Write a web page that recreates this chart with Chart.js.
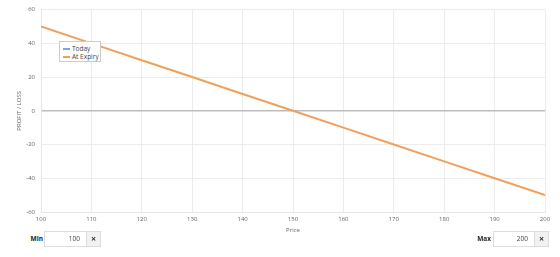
<!DOCTYPE html>
<html>
<head>
<meta charset="utf-8">
<script src="https://cdn.jsdelivr.net/npm/chart.js@4/dist/chart.umd.min.js"></script>
<style>
  body { margin: 0; background: #fff; font-family: "Open Sans", sans-serif; }
  #wrap { position: relative; width: 560px; height: 257px; }
  #box { position: absolute; left: 0; top: 0; width: 560px; height: 234px; }
  #legend { position: absolute; left: 59px; top: 41px; width: 42px; height: 21px;
    border: 1px solid #ccc; background: #fff; font-size: 6.5px; color: #444; padding: 3px 0 0 3px; box-sizing: border-box; }
  #legend div { height: 8px; line-height: 8px; white-space: nowrap; }
  #legend span { display: inline-block; width: 7px; height: 2px; vertical-align: middle; margin-right: 2px; }
  .ctl { position: absolute; top: 231px; height: 16px; }
  .ctl b { position: absolute; top: 3px; width: 20px; text-align: right; font-size: 6.5px; color: #222; }
  .ctl .inp { position: absolute; top: 0; height: 16px; border: 1px solid #ddd; box-sizing: border-box;
    text-align: right; padding-right: 6px; line-height: 14px; color: #444; font-size: 6.5px; }
  .ctl .btn { position: absolute; top: 0; height: 16px; border: 1px solid #ddd; background: #f2f2f2;
    box-sizing: border-box; text-align: center; line-height: 14px; font-size: 9px; font-weight: bold; color: #333; }
</style>
</head>
<body>
<div id="wrap">
  <div id="box"><canvas id="myChart"></canvas></div>
  <div id="legend">
    <div><span style="background:#7aa6e0"></span>Today</div>
    <div><span style="background:#f0a05a"></span>At Expiry</div>
  </div>
  <div class="ctl" style="left:0">
    <b style="left:23px">Min</b>
    <div class="inp" style="left:44px;width:43px">100</div>
    <div class="btn" style="left:86px;width:15px">×</div>
  </div>
  <div class="ctl" style="left:0">
    <b style="left:471px">Max</b>
    <div class="inp" style="left:493px;width:42px">200</div>
    <div class="btn" style="left:534px;width:15px">×</div>
  </div>
</div>
<script>
const prices = [100, 110, 120, 130, 140, 150, 160, 170, 180, 190, 200];
const todayValues = [];
const expiryValues = [50, 40, 30, 20, 10, 0, -10, -20, -30, -40, -50];
const yMin = -60;
const yMax = 60;

const ctx = document.getElementById('myChart').getContext('2d');

const chart = new Chart(ctx, {
    type: 'line',
    data: {
        datasets: [
            {
                label: 'Today',
                data: todayValues.map((v, i) => ({ x: prices[i], y: v })),
                borderColor: '#7aa6e0',
                borderWidth: 2,
                pointRadius: 0
            },
            {
                label: 'At Expiry',
                data: expiryValues.map((v, i) => ({ x: prices[i], y: v })),
                borderColor: '#f0a05a',
                borderWidth: 2,
                pointRadius: 0
            }
        ]
    },
    options: {
        responsive: true,
        maintainAspectRatio: false,
        animation: false,
        layout: { padding: { top: 8, right: 15, left: 16, bottom: 0 } },
        plugins: { legend: { display: false }, tooltip: { enabled: false } },
        scales: {
            x: {
                type: 'linear',
                min: prices[0],
                max: prices[prices.length - 1],
                ticks: { stepSize: 10, color: '#666', font: { family: 'Open Sans', size: 6 }, padding: 4 },
                grid: { color: '#ececec', drawTicks: false },
                border: { color: '#e6e6e6' },
                title: { display: true, text: 'Price', color: '#666', font: { family: 'Open Sans', size: 6 }, padding: { top: 2, bottom: 0 } },
                afterFit: (s) => { s.height = 22; }
            },
            y: {
                min: yMin,
                max: yMax,
                ticks: { stepSize: 20, color: '#666', font: { family: 'Open Sans', size: 6 }, padding: 6 },
                grid: {
                    drawTicks: false,
                    color: (c) => c.tick && c.tick.value === 0 ? '#bdbdbd' : '#ececec',
                    lineWidth: (c) => c.tick && c.tick.value === 0 ? 1.5 : 1
                },
                border: { color: '#e6e6e6' },
                title: { display: true, text: 'PROFIT / LOSS', color: '#666', font: { family: 'Open Sans', size: 6 }, padding: 0 },
                afterFit: (s) => { s.width = 25; }
            }
        }
    }
});
</script>
</body>
</html>
